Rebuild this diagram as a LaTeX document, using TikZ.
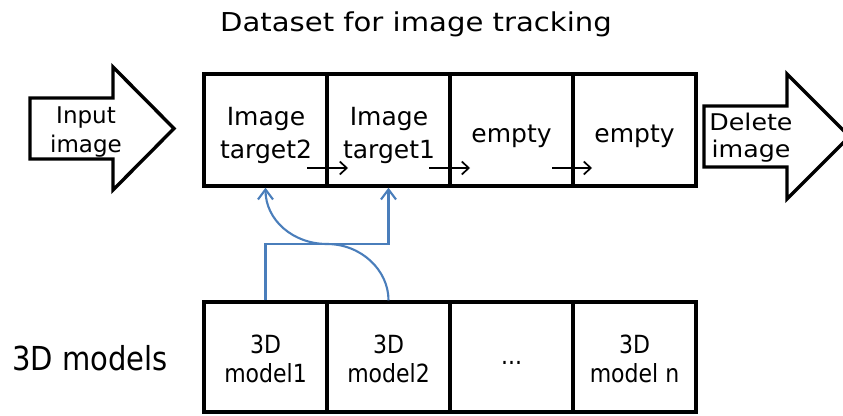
\documentclass[tikz,border=0pt]{standalone}
\usepackage{fontspec}
\setmainfont{DejaVu Sans}
\newfontfamily\widefont[FakeStretch=1.12]{DejaVu Sans}
\newfontfamily\condfont[FakeStretch=0.88]{DejaVu Sans}
\newfontfamily\delfont[FakeStretch=1.1]{DejaVu Sans}
\usetikzlibrary{arrows.meta}
\definecolor{linkblue}{RGB}{74,126,187}
\begin{document}
\begin{tikzpicture}[x=1pt,y=-1pt,
  cell/.style={draw, line width=3.4pt, minimum width=123pt, minimum height=112pt, inner sep=0pt},
  mcell/.style={draw, line width=3.4pt, minimum width=123pt, minimum height=110pt, inner sep=0pt},
  bigarrow/.style={draw, line width=3.4pt, line join=miter, fill=white},
  shiftarrow/.style={line width=1.7pt, -{Straight Barb[length=7pt,width=13pt]}},
  link/.style={draw=linkblue, line width=2.1pt, -{Straight Barb[length=10pt,width=15pt]}},
  txt/.style={anchor=base, inner sep=0pt, font=\fontsize{25}{30}\selectfont},
  mtxt/.style={anchor=base, inner sep=0pt, font=\condfont\fontsize{25}{30}\selectfont},
  atxt/.style={anchor=base, inner sep=0pt, font=\fontsize{23}{26}\selectfont},
  dtxt/.style={anchor=base, inner sep=0pt, font=\delfont\fontsize{23}{26}\selectfont}]
\useasboundingbox (0,0) rectangle (843,415);
\clip (0,0) rectangle (843,415);

\node[anchor=base, inner sep=0pt, font=\widefont\fontsize{26}{30}\selectfont] (title) at (416,31) {Dataset for image tracking};

% top row
\node[cell] (t1) at (265.5,130) {};
\node[cell] (t2) at (388.5,130) {};
\node[cell] (t3) at (511.5,130) {};
\node[cell] (t4) at (634.5,130) {};
\node[txt] (t1a) at (266,125) {Image};
\node[txt] (t1b) at (266,158) {target2};
\node[txt] (t2a) at (389,125) {Image};
\node[txt] (t2b) at (389,158) {target1};
\node[txt] (t3a) at (511.5,142) {empty};
\node[txt] (t4a) at (634.5,142) {empty};

% bottom row
\node[mcell] (m1) at (265.5,357) {};
\node[mcell] (m2) at (388.5,357) {};
\node[mcell] (m3) at (511.5,357) {};
\node[mcell] (m4) at (634.5,357) {};
\node[mtxt] (m1a) at (265.5,353) {3D};
\node[mtxt] (m1b) at (265.5,382) {model1};
\node[mtxt] (m2a) at (388.5,353) {3D};
\node[mtxt] (m2b) at (388.5,382) {model2};
\node[mtxt] (m3a) at (511.5,364) {...};
\node[mtxt] (m4a) at (634.5,353) {3D};
\node[mtxt] (m4b) at (634.5,382) {model n};

\node[anchor=base west, inner sep=0pt, font=\condfont\fontsize{33}{36}\selectfont] (models) at (12,370) {3D models};

% input arrow
\draw[bigarrow] (30,98) -- (113,98) -- (113,67) -- (174,128.5) -- (113,190) -- (113,159) -- (30,159) -- cycle;
\node[atxt] (in1) at (86,123) {Input};
\node[atxt] (in2) at (86,152) {image};

% delete arrow
\draw[bigarrow] (704,106) -- (787,106) -- (787,74) -- (849.5,136.5) -- (787,199) -- (787,167) -- (704,167) -- cycle;
\node[dtxt] (del1) at (751,130) {Delete};
\node[dtxt] (del2) at (751,157) {image};

% shift arrows
\coordinate (a1s) at (307,168); \coordinate (a1e) at (348,168);
\coordinate (a2s) at (429,168); \coordinate (a2e) at (470,168);
\coordinate (a3s) at (552,168); \coordinate (a3e) at (592,168);
\draw[shiftarrow] (a1s) -- (a1e);
\draw[shiftarrow] (a2s) -- (a2e);
\draw[shiftarrow] (a3s) -- (a3e);

% blue links
\draw[link] (m1.north) -- (265.5,244) -- (388.5,244) -- (t2.south);
\draw[link] (m2.north) .. controls (388.5,270) and (361,244) .. (327,244)
            .. controls (293,244) and (265.5,220) .. (t1.south);
\end{tikzpicture}
\end{document}
